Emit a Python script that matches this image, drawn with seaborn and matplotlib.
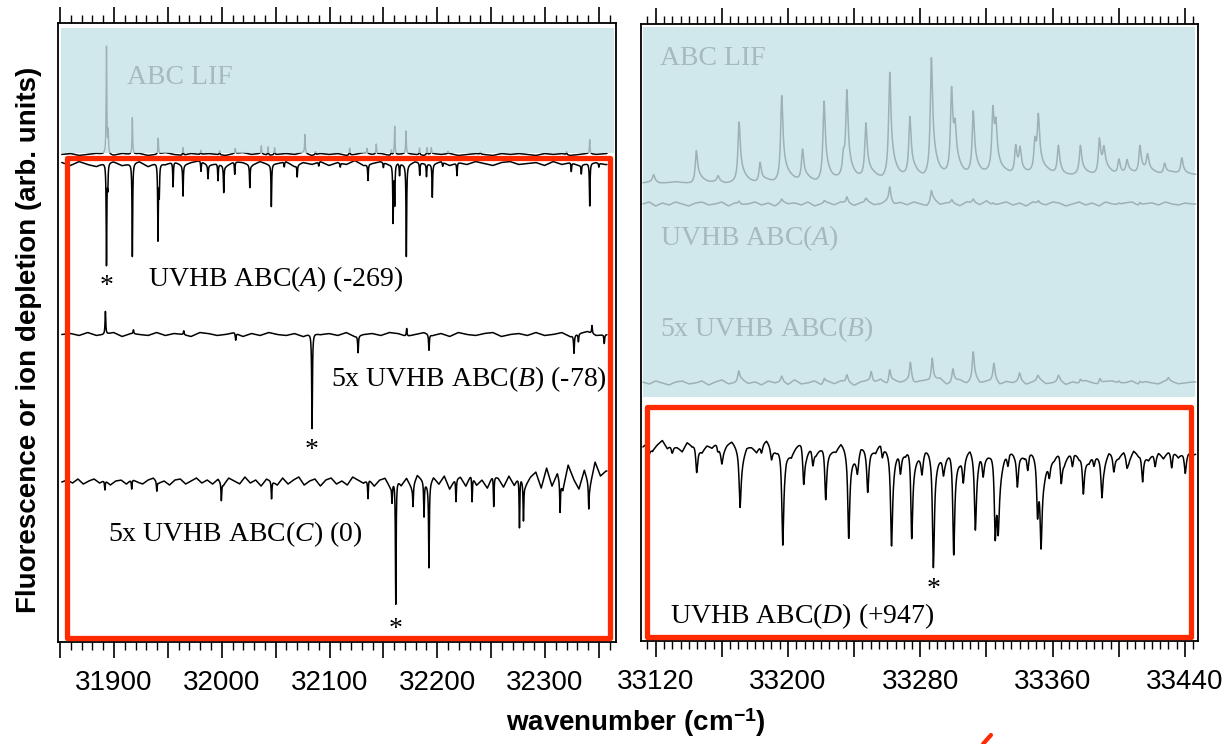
import numpy as np
import matplotlib
matplotlib.use("Agg")
import matplotlib.pyplot as plt
import seaborn as sns
from matplotlib.patches import Rectangle
from matplotlib.lines import Line2D
from matplotlib.ticker import MultipleLocator, FuncFormatter

# ===================== data =====================
# Left panel (cm-1), intensities in arbitrary units
lif_l_wn = [31893.0, 31894.6, 31917.0, 31941.0, 31964.0, 31980.5, 31998.0, 32012.5,
            32036.7, 32043.0, 32049.0, 32077.2, 32087.0, 32118.7, 32134.8, 32143.4,
            32157.4, 32160.5, 32171.0, 32183.5, 32190.5, 32194.5, 32210.0, 32240.0,
            32320.0, 32341.5]
lif_l_amp = [107.6, 22.0, 36.6, 16.0, 7.7, 4.0, 4.0, 5.0,
             8.0, 8.5, 7.0, 18.6, 3.0, 7.0, 5.0, 10.0,
             5.0, 28.6, 22.6, 7.0, 7.0, 6.0, 2.5, 2.0,
             3.0, 14.0]
lif_l_noise = [0, 1, -1, 0, 1, 0, -1, 1, 0, 1, -1, 0, 2, 0, -1, 1, 0, 1, 0, -1, 1, 2,
               0, 1, -1, 0, 1, 0, 2, -1, 1, 0, 1, -1, 0, 2, 0, 1, -1, 0, 1, 0, -1, 1,
               0, 1, -1, 0, 1, 0, -1, 1, 0, 1, 0, -1, 1, 0, 1, -1, 0, 1, 0, 1]

a_l_wn = [31893.0, 31894.2, 31917.0, 31940.8, 31942.0, 31954.8, 31964.0, 31980.7,
          31987.2, 31996.5, 32001.8, 32012.0, 32026.0, 32046.0, 32058.0, 32070.0,
          32090.0, 32110.0, 32135.7, 32150.0, 32159.0, 32160.5, 32165.0, 32171.3,
          32183.7, 32190.0, 32195.4, 32205.0, 32218.3, 32324.4, 32333.7, 32341.5,
          32350.0]
a_l_amp = [-101.7, -22.0, -93.4, -76.0, -30.0, -25.0, -30.7, -10.0,
           -13.4, -16.7, -26.7, -12.7, -22.7, -42.4, -5.0, -11.7,
           -4.0, -4.0, -16.0, -5.0, -57.7, -40.0, -12.0, -91.0,
           -12.7, -12.7, -32.7, -4.0, -12.7, -8.7, -9.0, -42.7,
           -4.0]
a_l_noise = [1, -2, 2, -1, -3, 1, 2, -2, 0, 2, -3, 1, -1, 2, -2, 1, 3, -2, 0, -3, 2, 1,
             -2, 2, -1, 0, 2, -3, 1, -1, 2, -2, 1, -1, 3, -2, 0, 2, -1, 1, -2, 2, 0,
             -1, 2, -2, 1, -1, 2, 0, -2, 1, 2, -1, 0, 1, -2, 2, -1, 1, -2, 0, 1, -1]

b_l_wn = [31892.0, 31918.0, 31964.7, 32012.9, 32083.8, 32126.5, 32171.6, 32192.3,
          32326.9, 32331.0, 32343.6, 32355.0]
b_l_amp = [23.0, 4.0, 4.0, -7.0, -96.0, -17.0, 8.0, -16.0,
           -18.0, -8.0, 8.0, -9.0]
b_l_noise = [0, 1, -1, 2, -1, 0, 2, -2, 1, 0, -1, 2, -1, 1, 0, -2, 2, 1, -1, 0, 2, -2,
             1, -1, 2, 0, -1, 1, -2, 2, 0, 1, -1, 2, -2, 0, 1, -1, 2, 1, -2, 0, 2, -1,
             1, -2, 2, 0, -1, 1, 2, -2, 0, 1, -1, 2, -1, 0, 2, -2, 1, 3, -1, 0]

c_l_wn = [31891.5, 31916.4, 31939.7, 31999.6, 32046.2, 32135.7, 32158.0, 32161.5,
          32177.5, 32187.7, 32192.3, 32217.4, 32232.3, 32252.4, 32276.3, 32280.0,
          32314.0, 32340.6]
c_l_amp = [-10.0, -10.0, -10.0, -18.0, -18.0, -19.0, -18.0, -128.0,
           -21.0, -35.0, -83.0, -23.0, -26.0, -31.0, -53.0, -38.0,
           -31.0, -25.0]
c_l_noise = [0, 2, -1, 3, -2, 1, 3, -1, 2, -3, 1, 2, -2, 3, 0, -2, 2, 4, -1, 1, -3, 2,
             3, -2, 1, 4, -1, 2, -2,
             3, -3, 4, 1, -2, 5, -1, 2, -4, 3, 1, -3, 4, -2, 2, 5, -3, 1, 3, -4, 2, 4,
             -2, 1, -3, 5, 2, -1, 3, -4, 2, 4,
             -5, 6, -3, 4, -6, 7, 2, -4, 5, -2, 6, -7, 3, 5, -4, 8, -3, 2, -6, 7, 4,
             -5, 6, -3, 8, -4, 5,
             10, -6, 14, -4, 9, -8, 17, 3, -7, 12, -5, 20, 6, 11]

# Right panel (cm-1)
lif_r_wn = [33118.7, 33144.6, 33157.7, 33170.4, 33183.1, 33196.2, 33208.8, 33221.8,
            33233.5, 33235.6, 33247.1, 33261.5, 33273.7, 33286.7, 33298.9, 33301.0,
            33312.0, 33323.9, 33325.7, 33337.7, 33340.3, 33349.3, 33351.4, 33363.5,
            33376.8, 33388.3, 33391.0, 33400.1, 33405.0, 33412.8, 33417.4, 33427.7,
            33438.1]
lif_r_amp = [8, 32, 6, 60, 20, 86, 31, 79,
             20, 85, 54, 104, 59, 117, 84, 33,
             62, 62, 38, 28, 23, 31, 53, 29,
             28, 35, 20, 15, 13, 28, 16, 11,
             16]
lif_r_noise = [0, 1, -1, 0, 1, 0, -1, 1, 0, 1, -1, 0, 1, 0, -1, 1, 0, 1,
               2, 1, 2, 0, 2, 1, 3, 1, 2,
               4, 5, 3, 6, 4, 5, 6, 4, 7, 5, 6,
               7, 6, 8, 7, 9, 6, 8, 7, 6, 8, 7, 9, 8, 6, 7, 9, 8, 7, 10, 8, 7, 9, 8,
               10, 9, 8, 10, 9, 8]

a_r_wn = [33170.4, 33196.2, 33222.0, 33235.6, 33247.1, 33261.5, 33286.7, 33299.0,
          33312.0, 33324.0, 33351.4, 33400.0, 33412.8]
a_r_amp = [3, 3, 3, 7, 4, 16, 12, 4, 4, 3, 3, 2, 3]
a_r_noise = [0, 2, -2, 1, -1, 2, 0, -2, 1, 2, -1, 0, 2, -2, 1, -1, 0, 2, -1, 1, -2, 2,
             0, 1, -1, 2, -2, 0, 1, -1, 2, 0, -2, 1, 2, -1, 0, 3, -2, 1, -1, 2, 0, -2,
             3, -1, 1, 0, -2, 2, 1, -1, 3, -2, 0, 2, -1, 1, -2, 2, 0, -1, 2, 1, -2, 0,
             2, -1, 1, -2, 2, 0, -1, 1, 2, -2, 0, 1, -1, 2, 0, -1, 1, 0]

b_r_wn = [33170.2, 33196.2, 33222.0, 33235.6, 33250.3, 33261.5, 33274.0, 33287.2,
          33299.7, 33312.0, 33324.5, 33340.0, 33351.0, 33363.5, 33376.8, 33388.6,
          33400.0, 33412.8, 33430.0]
b_r_amp = [11, 6, 5, 8, 11, 14, 21, 25, 14, 28, 18, 8, 5, 6, 4, 6, 3, 3, 4]
b_r_noise = [1, -1, 2, 0, -2, 1, 2, -1, 0, 2, -2, 1, 3, -1, 0, 2, -1, 1, -2, 2, 0, 1,
             -2, 3, -1, 0, 2, -2, 1, -1, 2, 0, -3, 1, 2, -1, 3, -2, 1, 0, 2, -3, 1, 2,
             -1, 3, -2, 0, 2, -1, 3, -2, 1, 2, -3, 1, 0, 2, -2, 1, 3, -1, 0, 2, -2, 1,
             -1, 2, 0, -2, 1, 2, -1, 0, 2, -2, 1, 0, -1, 2, 1, -1, 0, 1]

d_r_wn = [33116.0, 33130.0, 33144.8, 33157.5, 33160.0, 33171.0, 33184.0, 33190.0,
          33196.8, 33209.5, 33215.0, 33222.8, 33236.7, 33242.0, 33248.2, 33257.0,
          33262.6, 33268.0, 33274.8, 33281.0, 33287.9, 33294.0, 33300.2, 33306.0,
          33313.3, 33318.0, 33325.3, 33327.1, 33333.0, 33338.7, 33345.0, 33350.9,
          33353.0, 33358.0, 33365.2, 33372.0, 33378.6, 33385.0, 33389.8, 33397.0,
          33405.0, 33414.4, 33422.0, 33432.0, 33440.2]
d_r_amp = [-10, -10, -33, -8, -12, -59, -11, -12,
           -102, -40, -18, -60, -93, -20, -46, -14,
           -96, -25, -96, -22, -123, -18, -110, -28,
           -76, -22, -85, -60, -15, -36, -20, -60,
           -82, -18, -30, -16, -42, -14, -41, -18,
           -12, -33, -15, -20, -23]
d_r_noise = [3, 8, 1, 6, 10, 2, 7, 4, -1, 8, 5, 11, 2, 6, 3, 9, 0, 7, 10, 4,
             1, 8, 5, -1, 9, 12, 4, 2, 7, 10, 0, 6, 11, 3, 8, 1, 5, 12, 6, 2,
             9, 4, 7, 0, 10, 5, 8, 2, 11, 6, 1, 7, 9, 3, 12, 5, 2, 8, 4, 10,
             4, -1, 5, 9, 1, 4, 7, -2, 6, 2, 1, 5, -3, 4, 7, 0, 3, -2, 6, 1,
             1, -6, -1, -4, 2, -7, -1, 3, -5, 0, -7, 1, -3, -6, 2, -2, -5, 0, -8, 1,
             -4, 3, -6, -1, 1, -7, 0, 4, -5, -1, 2, -3]

# trace labels
left_labels = ["ABC LIF", r"UVHB ABC($\mathit{A}$) (-269)",
               r"5x UVHB ABC($\mathit{B}$) (-78)", r"5x UVHB ABC($\mathit{C}$) (0)"]
right_labels = ["ABC LIF", r"UVHB ABC($\mathit{A}$)", r"5x UVHB ABC($\mathit{B}$)",
                r"UVHB ABC($\mathit{D}$) (+947)"]
# origin bands marked with an asterisk
star_A, star_B, star_C, star_D = 31893.0, 32083.8, 32161.5, 33287.9

# ===================== layout / style =====================
W, H = 1225, 744
CYAN = "#d0e8ec"
GREY = "#9db1b4"
GREY_TXT = "#a6b9bc"
RED = "#ff2a00"
SERIF = "Liberation Serif"

sns.set_theme(style="white")
plt.rcParams["font.family"] = ["Liberation Sans", "DejaVu Sans"]
plt.rcParams["text.color"] = "black"
plt.rcParams["axes.labelcolor"] = "black"
plt.rcParams["xtick.color"] = "black"
plt.rcParams["ytick.color"] = "black"
plt.rcParams["mathtext.fontset"] = "custom"
plt.rcParams["mathtext.rm"] = "Liberation Serif"
plt.rcParams["mathtext.it"] = "Liberation Serif:italic"
plt.rcParams["mathtext.bf"] = "Liberation Serif:bold"
plt.rcParams["mathtext.sf"] = "Liberation Sans:bold"


def render(grid, wn, amp, noise, n_start, n_step, gamma, tail=0.0, tau=3.0):
    y = np.zeros_like(grid)
    for p, a in zip(wn, amp):
        d = grid - p
        lor = 1.0 / (1.0 + (d / gamma) ** 2)
        if tail > 0:
            shape = np.where(d >= 0,
                             (1 - tail) * lor + tail * np.exp(-np.clip(d, 0, None) / tau),
                             lor)
        else:
            shape = lor
        y += a * shape
    nwn = n_start + n_step * np.arange(len(noise))
    y += np.interp(grid, nwn, np.asarray(noise, float))
    return y


fig = plt.figure(figsize=(W / 100, H / 100), dpi=100)


def rect(x0, y0, x1, y1):
    return [x0 / W, 1 - y1 / H, (x1 - x0) / W, (y1 - y0) / H]


axL = fig.add_axes(rect(58, 23, 616, 642))
axR = fig.add_axes(rect(641, 24, 1198, 641))

axL.set_xlim(31848.0, 32365.9)
axL.set_ylim(0, 619)
axR.set_xlim(33111.1, 33447.9)
axR.set_ylim(0, 617)

# background shading
axL.add_patch(Rectangle((31850.8, 489), 32364.0 - 31850.8, 614 - 489,
                        facecolor=CYAN, edgecolor="none", zorder=0.5))
axR.add_patch(Rectangle((33112.3, 244), 33446.0 - 33112.3, 614 - 244,
                        facecolor=CYAN, edgecolor="none", zorder=0.5))

# ---- left traces
gL = np.arange(31851.5, 32357.6, 0.1)
lif_l = 487.5 + render(gL, lif_l_wn, lif_l_amp, lif_l_noise, 31851.5, 8, 0.35)
a_l = 478.5 + render(gL, a_l_wn, a_l_amp, a_l_noise, 31851.5, 8, 0.35)
b_l = 307.5 + render(gL, b_l_wn, b_l_amp, b_l_noise, 31851.5, 8, 0.4)
c_l = 160.0 + render(gL, c_l_wn, c_l_amp, c_l_noise, 31851.5, 5, 0.4)

kw = dict(estimator=None, sort=False, legend=False)
sns.lineplot(x=gL, y=lif_l, ax=axL, color=GREY, linewidth=1.0, **kw)
sns.lineplot(x=gL, y=lif_l, ax=axL, color="black", linewidth=1.0, **kw)
black_lif = axL.lines[-1]
black_lif.set_clip_path(Rectangle((31840, 0), 600, 489.2, transform=axL.transData))
for tr in (a_l, b_l, c_l):
    sns.lineplot(x=gL, y=tr, ax=axL, color="black", linewidth=1.1, **kw)

# ---- right traces
gR = np.arange(33112.3, 33446.6, 0.1)
lif_r = 458.0 + render(gR, lif_r_wn, lif_r_amp, lif_r_noise, 33112, 5, 0.8, 0.35, 3.5)
a_r = 437.0 + render(gR, a_r_wn, a_r_amp, a_r_noise, 33112, 4, 0.7, 0.3, 3.0)
b_r = 258.0 + render(gR, b_r_wn, b_r_amp, b_r_noise, 33112, 4, 0.7, 0.3, 3.0)
d_r = 191.0 + render(gR, d_r_wn, d_r_amp, d_r_noise, 33112, 3, 0.7, 0.35, 3.0)
for tr in (lif_r, a_r, b_r):
    sns.lineplot(x=gR, y=tr, ax=axR, color=GREY, linewidth=1.1, **kw)
sns.lineplot(x=gR, y=d_r, ax=axR, color="black", linewidth=1.1, **kw)

# red frames on top
axL.add_patch(Rectangle((31856.4, 4), 32360.3 - 31856.4, 484 - 4, facecolor="none",
                        edgecolor=RED, linewidth=3.8, joinstyle="round", zorder=5))
axR.add_patch(Rectangle((33114.7, 4), 33443.7 - 33114.7, 234 - 4, facecolor="none",
                        edgecolor=RED, linewidth=3.8, joinstyle="round", zorder=5))

# ---- axes styling
for ax, maj, mnr, lab_step, lab0 in ((axL, 50, 10, 100, 31900), (axR, 40, 5, 80, 33120)):
    ax.xaxis.set_major_locator(MultipleLocator(maj))
    ax.xaxis.set_minor_locator(MultipleLocator(mnr))
    ax.xaxis.set_major_formatter(FuncFormatter(
        lambda v, pos, s=lab_step, o=lab0: f"{int(round(v))}"
        if abs((v - o) % s) < 1e-6 or abs(((v - o) % s) - s) < 1e-6 else ""))
    ax.tick_params(axis="x", which="major", direction="out", length=11.5, width=1.2,
                   top=True, bottom=True, labeltop=False, labelsize=20, pad=9,
                   color="black", labelcolor="black")
    ax.tick_params(axis="x", which="minor", direction="out", length=5.5, width=1.0,
                   top=True, bottom=True, color="black")
    ax.set_yticks([])
    for sp in ax.spines.values():
        sp.set_visible(True)
        sp.set_color("black")
        sp.set_linewidth(1.3)
    ax.set_facecolor("white")

# ---- text labels (pixel positions, baseline)
def ftext(x, y, s, **k):
    fig.text(x / W, 1 - y / H, s, va="baseline", **k)

ftext(127, 83.5, left_labels[0], color=GREY_TXT, fontsize=20, family=SERIF)
ftext(148, 286.5, left_labels[1], color="black", fontsize=20, family=SERIF)
ftext(607, 386.5, left_labels[2], color="black", fontsize=20, family=SERIF, ha="right")
ftext(108.5, 541.5, left_labels[3], color="black", fontsize=20, family=SERIF)

ftext(660, 65, right_labels[0], color=GREY_TXT, fontsize=20, family=SERIF)
ftext(660, 245, right_labels[1], color=GREY_TXT, fontsize=20, family=SERIF)
ftext(660, 336.5, right_labels[2], color=GREY_TXT, fontsize=20, family=SERIF)
ftext(670, 623, right_labels[3], color="black", fontsize=20, family=SERIF)

# asterisks at the origin bands
star_kw = dict(ha="center", va="baseline", fontsize=20, family=SERIF, color="black")
axL.text(star_A, 642 - 293, "*", **star_kw)
axL.text(star_B, 642 - 457, "*", **star_kw)
axL.text(star_C, 642 - 635.7, "*", **star_kw)
axR.text(star_D, 641 - 596.3, "*", **star_kw)

# axis titles
fig.text(29 / W, 1 - 340 / H, "Fluorescence or ion depletion (arb. units)", rotation=90,
         ha="center", va="center", fontsize=20, fontweight="bold", color="black")
fig.text(636 / W, 1 - 731 / H, r"wavenumber (cm$^{\mathsf{-1}}$)", ha="center",
         va="baseline", fontsize=20, fontweight="bold", color="black")

# small red stroke at the bottom edge
fig.add_artist(Line2D([983 / W, 991 / W], [0.0, 1 - 735 / H], color=RED, linewidth=3))

fig.savefig("out.png", dpi=100)
